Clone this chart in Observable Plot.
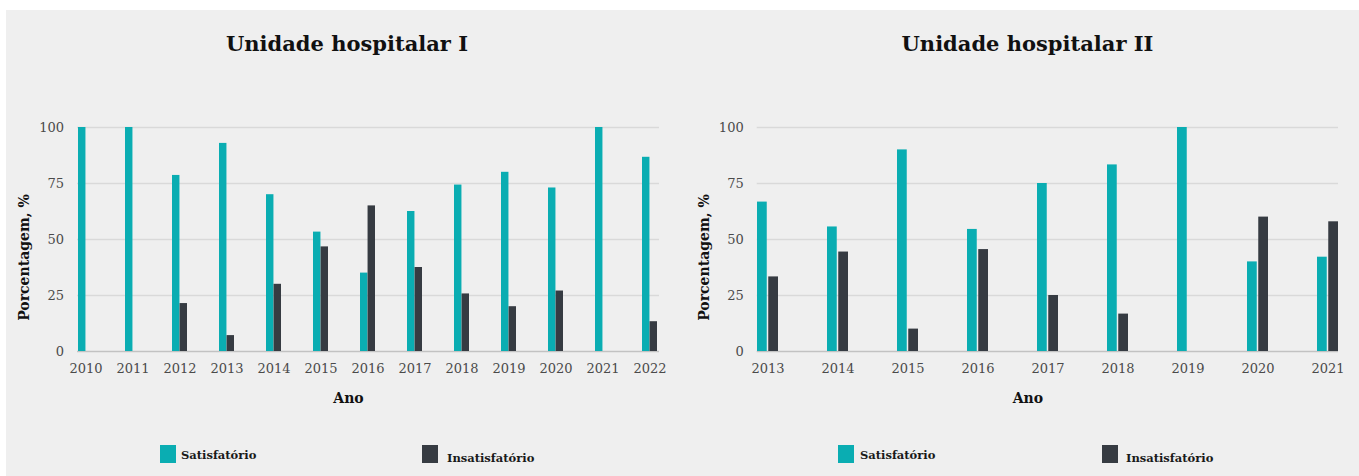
<!DOCTYPE html>
<html>
<head>
<meta charset="utf-8">
<script src="https://cdn.jsdelivr.net/npm/d3@7"></script>
<script src="https://cdn.jsdelivr.net/npm/@observablehq/plot@0.6"></script>
<style>
  body { margin: 0; background: #fff; width: 1359px; height: 476px; position: relative; overflow: hidden; font-family: "DejaVu Serif", serif; }
  #bg { position: absolute; left: 6px; top: 10px; width: 1353px; height: 466px; background: #efefef; }
  .title { position: absolute; width: 400px; text-align: center; font-weight: bold; font-size: 21px; line-height: 24px; color: #111; top: 32px; }
  .chart { position: absolute; top: 100px; }
  .sw { position: absolute; width: 16px; height: 18px; top: 445px; }
  .lt { position: absolute; top: 446px; font-size: 11.5px; line-height: 18px; font-weight: bold; color: #1a1a1a; white-space: nowrap; }
</style>
</head>
<body>
<div id="bg"></div>
<div id="root"></div>
<script>
// ---- data ----
const titles = ["Unidade hospitalar I", "Unidade hospitalar II"];
const seriesNames = ["Satisfatório", "Insatisfatório"];
const yLabel = "Porcentagem, %";
const xLabel = "Ano";
const yTicks = [0, 25, 50, 75, 100];

const years1 = ["2010","2011","2012","2013","2014","2015","2016","2017","2018","2019","2020","2021","2022"];
const sat1   = [100, 100, 78.6, 92.9, 70, 53.3, 35, 62.5, 74.3, 80, 73, 100, 86.7];
const ins1   = [0, 0, 21.4, 7.1, 30, 46.7, 65, 37.5, 25.7, 20, 27, 0, 13.3];

const years2 = ["2013","2014","2015","2016","2017","2018","2019","2020","2021"];
const sat2   = [66.7, 55.6, 90, 54.5, 75, 83.3, 100, 40, 42.1];
const ins2   = [33.3, 44.4, 10, 45.5, 25, 16.7, 0, 60, 57.9];

const colors = ["#0aadb2", "#363b42"];

function chart(years, sat, ins, width, ml, mr, pi, gap) {
  const n = years.length;
  const bw = (width - ml - mr) / (n - pi) * (1 - pi);
  const rows = years.map((a, i) => ({ano: a, sat: sat[i], ins: ins[i]}));
  return Plot.plot({
    width, height: 310,
    marginLeft: ml, marginRight: mr, marginTop: 27, marginBottom: 59,
    style: {background: "transparent", fontFamily: "DejaVu Serif", fontSize: "13px", color: "#4a4a4a", overflow: "visible"},
    x: {type: "band", domain: years, paddingInner: pi, paddingOuter: 0, align: 0.5},
    y: {domain: [0, 100]},
    marks: [
      Plot.gridY(yTicks.filter(d => d > 0), {stroke: "#d9d9d9", strokeOpacity: 1, strokeWidth: 1.5}),
      Plot.ruleY([0], {stroke: "#c2c2c2", strokeWidth: 1.5}),
      Plot.barY(rows.filter(d => d.sat > 0), {x: "ano", y: "sat", fill: colors[0], insetRight: bw / 2 + gap / 2}),
      Plot.barY(rows.filter(d => d.ins > 0), {x: "ano", y: "ins", fill: colors[1], insetLeft: bw / 2 + gap / 2}),
      Plot.axisX({tickSize: 0, tickPadding: 12.5, label: null, fill: "#4a4a4a", fontSize: 13}),
      Plot.axisY({ticks: yTicks, tickSize: 0, tickPadding: 13.5, label: null, fill: "#4a4a4a", fontSize: 13}),
      Plot.text([yLabel], {frameAnchor: "left", rotate: -90, dx: -53, dy: 18, textAnchor: "middle", lineAnchor: "middle", fontWeight: "bold", fontSize: 14, fill: "#111"}),
      Plot.text([xLabel], {frameAnchor: "bottom", dx: -20, dy: 47, textAnchor: "middle", lineAnchor: "middle", fontWeight: "bold", fontSize: 14, fill: "#111"})
    ]
  });
}

const root = document.getElementById("root");

const panels = [
  {left: 0, width: 680, ml: 77, mr: 21, pi: 0.68, gap: 0, years: years1, sat: sat1, ins: ins1, titleX: 347, legend: [160, 181, 422, 447]},
  {left: 680, width: 679, ml: 76.7, mr: 21, pi: 0.7, gap: 1.5, years: years2, sat: sat2, ins: ins2, titleX: 1027.5, legend: [838, 860, 1102, 1126]}
];

panels.forEach((p, k) => {
  const t = document.createElement("div");
  t.className = "title";
  t.style.left = (p.titleX - 200) + "px";
  t.textContent = titles[k];
  root.appendChild(t);

  const c = chart(p.years, p.sat, p.ins, p.width, p.ml, p.mr, p.pi, p.gap);
  c.classList.add("chart");
  c.style.left = p.left + "px";
  c.style.position = "absolute";
  c.style.top = "100px";
  root.appendChild(c);

  seriesNames.forEach((name, j) => {
    const sw = document.createElement("div");
    sw.className = "sw";
    sw.style.left = p.legend[j * 2] + "px";
    sw.style.background = colors[j];
    root.appendChild(sw);
    const lt = document.createElement("div");
    lt.className = "lt";
    lt.style.left = p.legend[j * 2 + 1] + "px";
    lt.style.top = (j === 0 ? 446 : 449) + "px";
    lt.textContent = name;
    root.appendChild(lt);
  });
});
</script>
</body>
</html>
